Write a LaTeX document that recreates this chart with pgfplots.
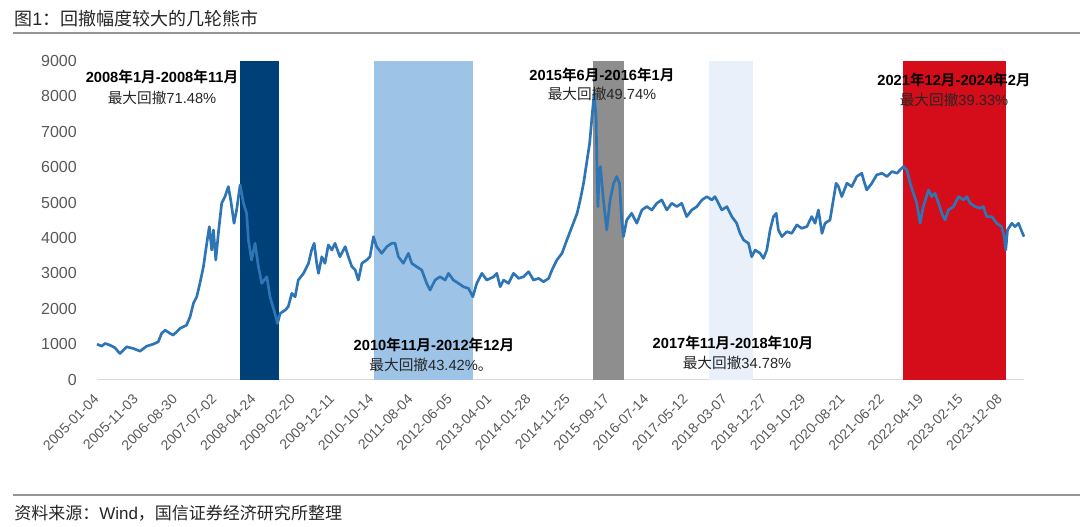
\documentclass[border=0pt]{standalone}
\usepackage{pgfplots}
\pgfplotsset{compat=1.18}
\usepackage{fontspec}
\setmainfont{Liberation Sans}
\newfontfamily\cjk{Noto Sans CJK SC}[BoldFont={Noto Sans CJK SC Bold}]
\newcommand{\zh}[1]{{\cjk #1}}

\definecolor{lineblue}{RGB}{46,117,182}
\definecolor{navy}{RGB}{0,64,120}
\definecolor{lblue}{RGB}{157,195,230}
\definecolor{bgray}{RGB}{142,142,142}
\definecolor{pale}{RGB}{233,240,250}
\definecolor{bred}{RGB}{213,12,25}
\definecolor{tickgray}{RGB}{89,89,89}
\definecolor{axisgray}{RGB}{217,217,217}
\definecolor{rulegray}{RGB}{150,150,150}
\definecolor{txt}{RGB}{38,38,38}

\begin{document}
\begin{tikzpicture}[x=0.75pt,y=-0.75pt]
\useasboundingbox (0,0) rectangle (1080,527);

\begin{axis}[
  scale only axis, width=695.25pt, height=238.875pt,
  at={(72.75pt,-284.625pt)}, anchor=south west,
  xmin=0, xmax=4721, ymin=0, ymax=9000,
  axis lines=left, axis line style={-},
  y axis line style={draw=none},
  x axis line style={draw=axisgray, line width=0.9pt},
  major tick length=0pt,
  ytick={0,1000,...,9000}, scaled y ticks=false,
  yticklabel style={font=\fontsize{12}{14}\selectfont, text=tickgray,
    /pgf/number format/1000 sep={}, /pgf/number format/assume math mode=true,
    inner sep=0pt, anchor=east, xshift=-15pt},
  xtick={0,200,...,4600},
  xticklabels={2005-01-04,2005-11-03,2006-08-30,2007-07-02,2008-04-24,2009-02-20,
    2009-12-11,2010-10-14,2011-08-04,2012-06-05,2013-04-01,2014-01-28,2014-11-25,
    2015-09-17,2016-07-14,2017-05-12,2018-03-07,2018-12-27,2019-10-29,2020-08-21,
    2021-06-22,2022-04-19,2023-02-15,2023-12-08},
  xticklabel style={font=\fontsize{10.5}{12}\selectfont, text=tickgray,
    xshift=-0.5pt, yshift=-13pt, rotate=45, anchor=east, inner sep=0pt},
  clip=false,
]
% bear market bands
\addplot[fill=navy, draw=none] coordinates {(729,9000) (926,9000)} \closedcycle;
\addplot[fill=lblue, draw=none] coordinates {(1413,9000) (1917,9000)} \closedcycle;
\addplot[fill=bgray, draw=none] coordinates {(2528,9000) (2682,9000)} \closedcycle;
\addplot[fill=pale, draw=none] coordinates {(3119,9000) (3340,9000)} \closedcycle;
\addplot[fill=bred, draw=none] coordinates {(4107,9000) (4628,9000)} \closedcycle;

% index
\addplot[lineblue, line width=2pt, line join=round] coordinates {
(0,999) (24,942) (41,1018) (66,971) (92,895) (109,782) (117,736) (151,923)
(185,877) (219,801) (253,942) (287,999) (312,1065) (329,1302) (347,1395)
(372,1302) (388,1254) (423,1443) (456,1537) (474,1772) (491,2151) (508,2338)
(524,2717) (542,3187) (559,3849) (572,4319) (584,3659) (593,4225) (605,3376)
(618,4132) (635,4981) (652,5168) (669,5451) (681,5074) (698,4415) (711,4791)
(729,5499) (746,4981) (762,4698) (771,3942) (787,3376) (805,3849) (822,3187)
(839,2717) (865,2904) (881,2338) (906,1868) (919,1585) (933,1868) (958,1961)
(974,2055) (992,2434) (1009,2338) (1025,2810) (1052,3000) (1077,3283)
(1093,3659) (1106,3849) (1119,3283) (1128,3000) (1145,3470) (1161,3283)
(1178,3801) (1196,3659) (1212,3849) (1237,3470)
(1264,3754) (1280,3470) (1298,3187) (1315,3093) (1331,2810) (1349,3283)
(1373,3376) (1390,3470) (1408,4037) (1424,3754) (1450,3565) (1476,3754)
(1501,3849) (1518,3849) (1535,3470) (1560,3283) (1586,3565) (1603,3283)
(1628,3187) (1654,3093) (1679,2717) (1696,2527) (1722,2810) (1747,2904)
(1773,2810) (1790,3000) (1815,2810) (1841,2717) (1866,2621) (1892,2574)
(1914,2338) (1934,2717) (1960,3000) (1985,2810) (2020,2904) (2036,3000)
(2053,2621) (2071,2810) (2096,2717) (2121,3000) (2147,2857) (2172,2904)
(2198,3046) (2223,2810) (2249,2857) (2274,2763) (2300,2857) (2317,3093)
(2342,3376) (2368,3565) (2393,3942) (2419,4319) (2445,4697) (2461,5074)
(2478,5546) (2496,6207) (2509,6679) (2521,7434) (2532,8100) (2542,7339)
(2546,6018) (2551,4886) (2558,5900) (2564,6018)
(2579,5074) (2596,4225) (2613,5074) (2631,5546) (2647,5735) (2661,5546)
(2672,4509) (2681,4037) (2698,4509) (2723,4697) (2749,4415) (2775,4791)
(2800,4886) (2826,4791) (2851,4981) (2876,5074) (2902,4791) (2927,4981)
(2953,4886) (2978,4981) (3003,4603) (3029,4791) (3055,4886) (3081,5074)
(3106,5168) (3131,5074) (3147,5168) (3165,4981) (3182,4791) (3208,4886)
(3233,4603) (3258,4415) (3275,4131) (3293,3942) (3318,3848) (3334,3470)
(3352,3659) (3377,3565) (3394,3423) (3411,3659) (3428,4225) (3445,4603)
(3459,4697) (3470,4225) (3488,4037) (3513,4178) (3538,4131) (3564,4368)
(3589,4272) (3615,4320) (3640,4603) (3657,4415) (3674,4791) (3692,4131)
(3708,4415) (3733,4509) (3750,5074) (3764,5546) (3776,5451) (3793,5168)
(3819,5546) (3844,5451) (3869,5735) (3895,5829) (3904,5640) (3920,5357)
(3946,5546) (3971,5782) (3998,5829) (4023,5735) (4048,5877) (4074,5829)
(4107,6018) (4124,5923) (4141,5546) (4158,5263) (4175,4981) (4192,4415)
(4208,4886) (4235,5357) (4251,5168) (4268,5263) (4286,4981) (4302,4697)
(4319,4509) (4336,4791) (4362,4886) (4387,5168) (4413,5074) (4430,5168)
(4447,4981) (4472,4886) (4498,4839) (4514,4886) (4531,4603) (4557,4603)
(4582,4415) (4607,4320) (4620,4037) (4628,3659) (4637,4225) (4659,4415)
(4675,4320) (4693,4415) (4710,4178) (4721,4037)
};
\end{axis}

% title and source
\node[anchor=west, inner sep=0pt, text=txt, font=\fontsize{13.5}{16}\selectfont]
  at (14,19) {\zh{图}1\zh{：回撤幅度较大的几轮熊市}};
\draw[rulegray, line width=0.9pt] (13,33) -- (1080,33);
\draw[rulegray, line width=0.9pt] (13,495) -- (1080,495);
\node[anchor=west, inner sep=0pt, text=txt, font=\fontsize{12.75}{15}\selectfont]
  at (14,513) {\zh{资料来源：}Wind\zh{，国信证券经济研究所整理}};

% annotations
\tikzset{hd/.style={inner sep=0pt, text=black, font=\fontsize{11}{13}\selectfont\bfseries},
         sb/.style={inner sep=0pt, text=txt, font=\fontsize{11}{13}\selectfont}}
\node[hd] at (162,77) {2008\zh{年}1\zh{月}-2008\zh{年}11\zh{月}};
\node[sb] at (162,98) {\zh{最大回撤}71.48\%};
\node[hd] at (602,75) {2015\zh{年}6\zh{月}-2016\zh{年}1\zh{月}};
\node[sb] at (602,94) {\zh{最大回撤}49.74\%};
\node[hd] at (954,80) {2021\zh{年}12\zh{月}-2024\zh{年}2\zh{月}};
\node[sb] at (954,100) {\zh{最大回撤}39.33\%};
\node[hd] at (434,345) {2010\zh{年}11\zh{月}-2012\zh{年}12\zh{月}};
\node[sb] at (431,365) {\zh{最大回撤}43.42\%\zh{。}};
\node[hd] at (733,343) {2017\zh{年}11\zh{月}-2018\zh{年}10\zh{月}};
\node[sb] at (737,363) {\zh{最大回撤}34.78\%};
\end{tikzpicture}
\end{document}
